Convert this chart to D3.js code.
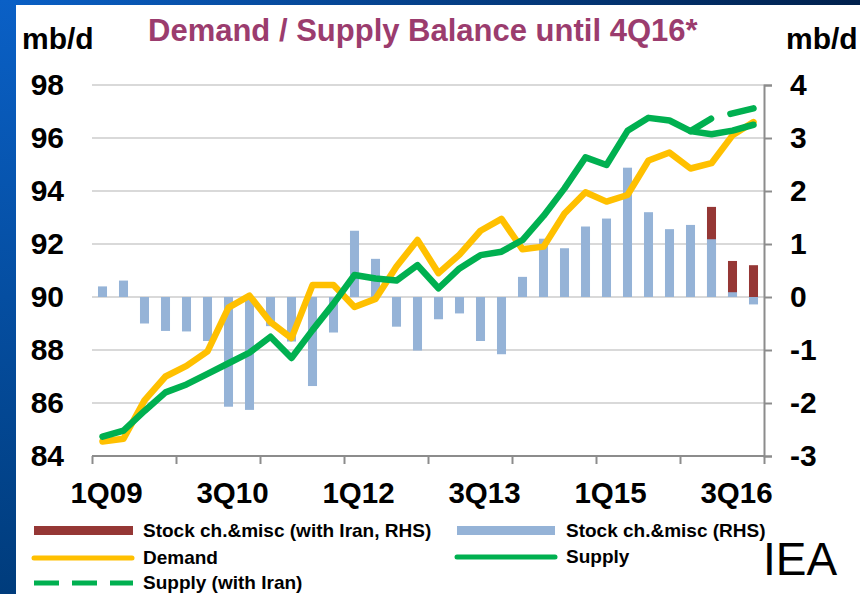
<!DOCTYPE html>
<html>
<head>
<meta charset="utf-8">
<script src="https://cdn.jsdelivr.net/npm/d3@7"></script>
<style>
  html, body { margin: 0; padding: 0; background: #fff; }
  svg { display: block; }
  text { font-family: "Liberation Sans", Arial, sans-serif; }
</style>
</head>
<body>
<svg id="chart" width="860" height="594"></svg>
<script>
// ---------------- data ----------------
const quarters = [
  "1Q09","2Q09","3Q09","4Q09","1Q10","2Q10","3Q10","4Q10",
  "1Q11","2Q11","3Q11","4Q11","1Q12","2Q12","3Q12","4Q12",
  "1Q13","2Q13","3Q13","4Q13","1Q14","2Q14","3Q14","4Q14",
  "1Q15","2Q15","3Q15","4Q15","1Q16","2Q16","3Q16","4Q16"
];
const xTickLabels = ["1Q09","3Q10","1Q12","3Q13","1Q15","3Q16"];
const yearStarts = ["1Q09","1Q10","1Q11","1Q12","1Q13","1Q14","1Q15","1Q16"];
const leftTicks = [84, 86, 88, 90, 92, 94, 96, 98];
const rightTicks = [-3, -2, -1, 0, 1, 2, 3, 4];

const demand = [84.55, 84.65, 86.1, 87.0, 87.4, 87.95, 89.6, 90.05,
                89.05, 88.45, 90.45, 90.45, 89.62, 89.93, 91.15, 92.15,
                90.9, 91.6, 92.5, 92.95, 91.8, 91.9, 93.15, 93.95,
                93.6, 93.85, 95.15, 95.45, 94.85, 95.05, 96.1, 96.6];
const supply = [84.73, 84.96, 85.7, 86.4, 86.7, 87.1, 87.5, 87.9,
                88.5, 87.7, 88.75, 89.75, 90.83, 90.7, 90.62, 91.2,
                90.33, 91.08, 91.58, 91.71, 92.15, 93.06, 94.1, 95.27,
                94.98, 96.27, 96.76, 96.66, 96.26, 96.14, 96.28, 96.5];
const supplyIran = [null, null, null, null, null, null, null, null,
                    null, null, null, null, null, null, null, null,
                    null, null, null, null, null, null, null, null,
                    null, null, null, null, 96.26, 96.74, 96.93, 97.12];
const stock = [0.2, 0.31, -0.5, -0.64, -0.65, -0.83, -2.07, -2.13,
               -0.55, -0.84, -1.68, -0.67, 1.25, 0.72, -0.56, -1.01,
               -0.42, -0.31, -0.83, -1.08, 0.38, 1.1, 0.92, 1.33,
               1.48, 2.44, 1.6, 1.28, 1.36, 1.09, 0.09, -0.14];
const stockIran = [null, null, null, null, null, null, null, null,
                   null, null, null, null, null, null, null, null,
                   null, null, null, null, null, null, null, null,
                   null, null, null, null, null, 1.70, 0.68, 0.60];

// ---------------- styles ----------------
const C = {
  red: "#953735", blue: "#95b3d7", yellow: "#ffc000", green: "#00b050",
  grid: "#d9d9d9", axis: "#8c8c8c", title: "#9b3c6e", text: "#000"
};
const FONT = '"Liberation Sans", Arial, sans-serif';
const LW = 6.5;

const svg = d3.select("#chart");

// frame
const defs = svg.append("defs");
const gradL = defs.append("linearGradient").attr("id", "frameL")
  .attr("x1", "0").attr("y1", "0").attr("x2", "0").attr("y2", "1");
gradL.append("stop").attr("offset", "0").attr("stop-color", "#0a60c6");
gradL.append("stop").attr("offset", "1").attr("stop-color", "#003c7c");
const gradT = defs.append("linearGradient").attr("id", "frameT")
  .attr("x1", "0").attr("y1", "0").attr("x2", "1").attr("y2", "0");
gradT.append("stop").attr("offset", "0").attr("stop-color", "#0a60c6");
gradT.append("stop").attr("offset", "1").attr("stop-color", "#00204c");

svg.append("rect").attr("x", 0).attr("y", 0).attr("width", 860).attr("height", 594).attr("fill", "#fff");
svg.append("rect").attr("x", 0).attr("y", 0).attr("width", 860).attr("height", 5).attr("fill", "url(#frameT)");
svg.append("rect").attr("x", 0).attr("y", 0).attr("width", 16).attr("height", 594).attr("fill", "url(#frameL)");

// scales
const x = d3.scaleBand().domain(quarters).range([92, 764]).paddingInner(0.57).paddingOuter(0.285);
const xc = d => x(d) + x.bandwidth() / 2;
const yL = d3.scaleLinear().domain([84, 98]).range([456, 85]);
const yR = d3.scaleLinear().domain([-3, 4]).range([456, 85]);

// gridlines
svg.append("g")
  .selectAll("line").data(leftTicks.filter(t => t > 84)).join("line")
  .attr("x1", 92).attr("x2", 764)
  .attr("y1", d => yL(d)).attr("y2", d => yL(d))
  .attr("stroke", C.grid).attr("stroke-width", 2);

// left axis labels
const gL = svg.append("g").attr("transform", "translate(92,0)")
  .call(d3.axisLeft(yL).tickValues(leftTicks).tickSize(0).tickPadding(28).tickFormat(d => String(d)));
gL.select(".domain").remove();
gL.selectAll("text").attr("font-family", FONT).attr("font-size", 30).attr("font-weight", "bold").attr("fill", C.text);

// right axis
const gR = svg.append("g").attr("transform", "translate(764,0)")
  .call(d3.axisRight(yR).tickValues(rightTicks).tickSize(8).tickPadding(18).tickFormat(d => String(d)));
gR.select(".domain").attr("stroke", C.axis).attr("stroke-width", 2);
gR.selectAll(".tick line").attr("stroke", C.axis).attr("stroke-width", 2);
gR.selectAll("text").attr("font-family", FONT).attr("font-size", 30).attr("font-weight", "bold").attr("fill", C.text);

// bars (with Iran first, then base on top)
const barData = quarters.map((q, i) => ({ q, v: stock[i], vi: stockIran[i] }));
svg.append("g").selectAll("rect").data(barData.filter(d => d.vi != null)).join("rect")
  .attr("x", d => x(d.q)).attr("width", x.bandwidth())
  .attr("y", d => yR(Math.max(0, d.vi))).attr("height", d => Math.abs(yR(d.vi) - yR(0)))
  .attr("fill", C.red);
svg.append("g").selectAll("rect").data(barData).join("rect")
  .attr("x", d => x(d.q)).attr("width", x.bandwidth())
  .attr("y", d => yR(Math.max(0, d.v))).attr("height", d => Math.abs(yR(d.v) - yR(0)))
  .attr("fill", C.blue);

// x axis (line + ticks at year boundaries)
const xTickScale = d3.scaleLinear().domain([0, quarters.length]).range([92, 764]);
const yearIdx = yearStarts.map(q => quarters.indexOf(q)).concat([quarters.length]);
const gX = svg.append("g").attr("transform", "translate(0,456)")
  .call(d3.axisBottom(xTickScale).tickValues(yearIdx).tickSize(8).tickFormat(""));
gX.select(".domain").attr("stroke", C.axis).attr("stroke-width", 2).attr("d", "M92,0H764");
gX.selectAll(".tick line").attr("stroke", C.axis).attr("stroke-width", 2);

const gXL = svg.append("g").attr("transform", "translate(4,456)")
  .call(d3.axisBottom(x).tickValues(xTickLabels).tickSize(0).tickPadding(26));
gXL.select(".domain").remove();
gXL.selectAll("text").attr("font-family", FONT).attr("font-size", 29.5).attr("font-weight", "bold").attr("fill", C.text);

// lines
const line = d3.line().defined(d => d.v != null).x(d => xc(d.q)).y(d => yL(d.v));
const mk = arr => quarters.map((q, i) => ({ q, v: arr[i] }));
svg.append("path").datum(mk(demand)).attr("d", line)
  .attr("fill", "none").attr("stroke", C.yellow).attr("stroke-width", LW)
  .attr("stroke-linejoin", "round").attr("stroke-linecap", "round");
svg.append("path").datum(mk(supply)).attr("d", line)
  .attr("fill", "none").attr("stroke", C.green).attr("stroke-width", LW)
  .attr("stroke-linejoin", "round").attr("stroke-linecap", "round");
svg.append("path").datum(mk(supplyIran)).attr("d", line)
  .attr("fill", "none").attr("stroke", C.green).attr("stroke-width", LW)
  .attr("stroke-dasharray", "24,20").attr("stroke-linecap", "round");

// titles
svg.append("text").attr("x", 148).attr("y", 41).text("Demand / Supply Balance until 4Q16*")
  .attr("font-size", 31).attr("font-weight", "bold").attr("fill", C.title);
svg.append("text").attr("x", 22).attr("y", 49).text("mb/d")
  .attr("font-size", 30).attr("font-weight", "bold").attr("fill", C.text);
svg.append("text").attr("x", 786).attr("y", 49).text("mb/d")
  .attr("font-size", 30).attr("font-weight", "bold").attr("fill", C.text);

// legend
const lg = svg.append("g").attr("font-size", 19).attr("font-weight", "bold").attr("fill", C.text);
lg.append("rect").attr("x", 34).attr("y", 526).attr("width", 99).attr("height", 9).attr("fill", C.red);
lg.append("text").attr("x", 143).attr("y", 537).text("Stock ch.&misc (with Iran, RHS)");
lg.append("rect").attr("x", 457).attr("y", 526).attr("width", 98).attr("height", 9).attr("fill", C.blue);
lg.append("text").attr("x", 566).attr("y", 537).text("Stock ch.&misc (RHS)");
lg.append("line").attr("x1", 34).attr("x2", 132).attr("y1", 558).attr("y2", 558)
  .attr("stroke", C.yellow).attr("stroke-width", 5).attr("stroke-linecap", "round");
lg.append("text").attr("x", 143).attr("y", 564).text("Demand");
lg.append("line").attr("x1", 457).attr("x2", 555).attr("y1", 557).attr("y2", 557)
  .attr("stroke", C.green).attr("stroke-width", 5).attr("stroke-linecap", "round");
lg.append("text").attr("x", 566).attr("y", 563).text("Supply");
lg.append("line").attr("x1", 34).attr("x2", 133).attr("y1", 583).attr("y2", 583)
  .attr("stroke", C.green).attr("stroke-width", 5).attr("stroke-dasharray", "25,13");
lg.append("text").attr("x", 143).attr("y", 589).text("Supply (with Iran)");

svg.append("text").attr("x", 763).attr("y", 575).text("IEA")
  .attr("font-size", 46).attr("fill", C.text);
</script>
</body>
</html>
